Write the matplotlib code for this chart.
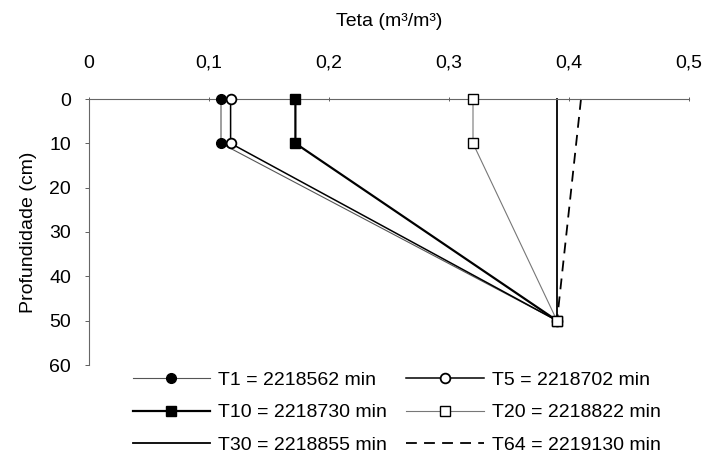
import matplotlib
matplotlib.use("Agg")
import matplotlib.pyplot as plt
from matplotlib.ticker import FuncFormatter

plt.rcParams['font.family'] = ['Liberation Sans', 'DejaVu Sans']

depths = [0, 10, 50]
t1 = [0.11, 0.11, 0.39]
t5 = [0.118, 0.118, 0.39]
t10 = [0.172, 0.172, 0.39]
t20 = [0.32, 0.32, 0.39]
t30 = [0.39, 0.39, 0.39]
t64 = [0.41, 0.406, 0.39]

labels = ["T1 = 2218562 min", "T5 = 2218702 min", "T10 = 2218730 min",
          "T20 = 2218822 min", "T30 = 2218855 min", "T64 = 2219130 min"]

W, H = 707, 467
fig = plt.figure(figsize=(W / 100, H / 100), dpi=100)
ax = fig.add_axes([89 / W, 1 - 365 / H, 600 / W, 266 / H])

fs = 14

h1, = ax.plot(t1, depths, color="#555555", lw=0.8, marker="o", ms=7,
              mfc="black", mec="black", clip_on=False, zorder=3)
h5, = ax.plot(t5, depths, color="black", lw=1.1, marker="o", ms=7,
              mfc="white", mec="black", mew=1.3, clip_on=False, zorder=3)
h10, = ax.plot(t10, depths, color="black", lw=1.6, marker="s", ms=6.5,
               mfc="black", mec="black", clip_on=False, zorder=3)
h20, = ax.plot(t20, depths, color="#777777", lw=0.8, marker="s", ms=7,
               mfc="white", mec="black", mew=1.0, clip_on=False, zorder=3)
h30, = ax.plot(t30, depths, color="black", lw=1.3, clip_on=False)
h64, = ax.plot(t64, depths, color="black", lw=1.3, ls=(0, (6, 4)), clip_on=False)

ax.set_xlim(0, 0.5)
ax.set_ylim(60, 0)
ax.set_xticks([0, 0.1, 0.2, 0.3, 0.4, 0.5])
ax.set_yticks(range(0, 61, 10))
ax.xaxis.set_major_formatter(FuncFormatter(lambda v, p: "0" if v == 0 else f"{v:.1f}".replace(".", ",")))
ax.xaxis.tick_top()
ax.xaxis.set_label_position("top")
ax.tick_params(axis="both", labelsize=fs, length=3, width=0.6, color="#444444")
ax.tick_params(axis="x", direction="inout", pad=18)
ax.tick_params(axis="y", direction="out", pad=10)
ax.set_xlabel("Teta (m³/m³)", fontsize=fs, labelpad=21)
ax.set_ylabel("Profundidade (cm)", fontsize=fs, labelpad=9)

for side in ("right", "bottom"):
    ax.spines[side].set_visible(False)
for side in ("top", "left"):
    ax.spines[side].set_color("#666666")
    ax.spines[side].set_linewidth(0.8)
    ax.spines[side].set_linestyle((0, (1, 1)))

handles = [h1, h10, h30, h5, h20, h64]
leg_labels = [labels[0], labels[2], labels[4], labels[1], labels[3], labels[5]]
fig.legend(handles, leg_labels, ncol=2, loc="upper left",
           bbox_to_anchor=(115 / W, 1 - 354 / H), frameon=False, fontsize=fs,
           handlelength=4.0, columnspacing=1.0, labelspacing=0.75, handletextpad=0.4)

fig.savefig("out.png", dpi=100)
